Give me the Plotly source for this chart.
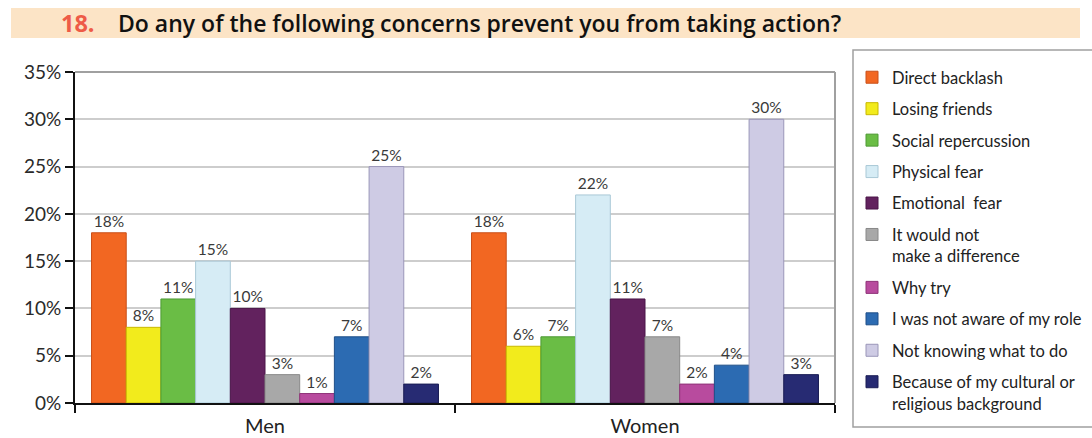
import plotly.graph_objects as go

categories = ["Men", "Women"]
series_names = [
    "Direct backlash",
    "Losing friends",
    "Social repercussion",
    "Physical fear",
    "Emotional  fear",
    "It would not<br>make a difference",
    "Why try",
    "I was not aware of my role",
    "Not knowing what to do",
    "Because of my cultural or<br>religious background",
]
men_values = [18, 8, 11, 15, 10, 3, 1, 7, 25, 2]
women_values = [18, 6, 7, 22, 11, 7, 2, 4, 30, 3]
fill_colors = ["#F26722", "#F2EB1C", "#6ABD45", "#D6ECF5", "#62225E",
               "#A8A8A8", "#B84B9E", "#2C6BB2", "#CECBE4", "#272B73"]
line_colors = ["#C9501A", "#C8B800", "#4E9A35", "#A9C8D6", "#4A1548",
               "#888888", "#8F3378", "#1F4F88", "#9A96B8", "#1A1D55"]
y_ticks = [0, 5, 10, 15, 20, 25, 30, 35]
y_tick_labels = [f"{v}%" for v in y_ticks]

W, H = 1092, 438
L, R, T, B = 75, 835, 72, 403


def px_x(x):
    return (x - L) / (R - L)


def px_y(y):
    return (B - y) / (B - T)


fig = go.Figure()
for i, name in enumerate(series_names):
    vals = [men_values[i], women_values[i]]
    fig.add_trace(go.Bar(
        name=name,
        x=categories,
        y=vals,
        text=[f"{v}%" for v in vals],
        marker=dict(color=fill_colors[i], line=dict(color=line_colors[i], width=1)),
        textposition="outside",
        textfont=dict(family="Lato", size=15.5, color="#3A3A3A"),
        cliponaxis=False,
        legendgroup=f"g{i}",
    ))

fig.update_layout(
    width=W, height=H,
    margin=dict(l=L, r=W - R, t=T, b=H - B, autoexpand=False),
    paper_bgcolor="white", plot_bgcolor="white",
    barmode="group", bargap=0.087, bargroupgap=0,
    font=dict(family="Lato", color="#222222"),
    showlegend=True,
    legend=dict(
        x=px_x(852), y=px_y(60), xanchor="left", yanchor="top",
        borderwidth=0, bgcolor="rgba(0,0,0,0)",
        font=dict(family="Lato", size=16.5, color="#222222"),
        tracegroupgap=7, valign="top", traceorder="grouped",
        maxheight=600,
    ),
    xaxis=dict(
        type="category", showline=True, linecolor="#111111", linewidth=2,
        ticks="outside", tickson="boundaries", ticklen=8, tickwidth=2, tickcolor="#111111",
        tickfont=dict(family="Lato", size=20, color="#222222"),
        ticklabelstandoff=4,
        showgrid=False, zeroline=False,
    ),
    yaxis=dict(
        range=[0, 35], tickvals=y_ticks, ticktext=y_tick_labels,
        showline=True, linecolor="#111111", linewidth=2,
        ticks="outside", ticklen=8, tickwidth=2, tickcolor="#111111",
        tickfont=dict(family="Lato", size=19, color="#2A2A2A"),
        showgrid=True, gridcolor="#CDCDCD", gridwidth=1.5, zeroline=False,
    ),
    shapes=[
        dict(type="rect", xref="paper", yref="paper",
             x0=px_x(11), x1=px_x(1080), y0=px_y(38), y1=px_y(8),
             fillcolor="#FCE4C6", line=dict(width=0), layer="below"),
        dict(type="line", xref="paper", yref="paper",
             x0=1, x1=1, y0=0, y1=1, line=dict(color="#A0A0A0", width=2)),
        dict(type="line", xref="paper", yref="paper",
             x0=0, x1=1, y0=1, y1=1, line=dict(color="#A0A0A0", width=2)),
        dict(type="rect", xref="paper", yref="paper",
             x0=px_x(853), x1=px_x(1110), y0=px_y(427), y1=px_y(50),
             fillcolor="rgba(0,0,0,0)", line=dict(color="#A0A0A0", width=1.5)),
    ],
    annotations=[
        dict(xref="paper", yref="paper", x=px_x(59), y=px_y(23),
             xanchor="left", yanchor="middle", showarrow=False,
             text="<b>18.</b>",
             font=dict(family="Open Sans", size=23.5, color="#EE5B47")),
        dict(xref="paper", yref="paper", x=px_x(116), y=px_y(23),
             xanchor="left", yanchor="middle", showarrow=False,
             text="Do any of the following concerns prevent you from taking action?",
             font=dict(family="Open Sans", size=23, weight=600, color="#111111")),
    ],
)

fig.write_html("out.html")
